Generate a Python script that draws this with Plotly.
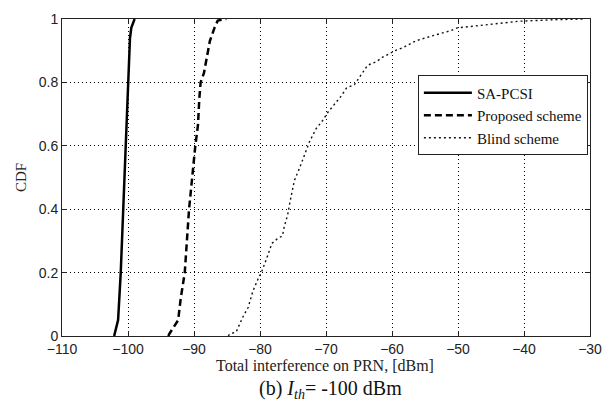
import plotly.graph_objects as go

# ---- data ----
x_sa = [-102.1, -102.0, -101.5, -101.1, -100.8, -100.7, -100.3, -100.2, -99.97, -99.8, -99.7, -99.5, -99.0]
cdf_sa = [0, 0.008, 0.05, 0.2, 0.357, 0.4, 0.6, 0.665, 0.8, 0.88, 0.94, 0.972, 1.0]

x_pr = [-93.9, -93.7, -92.4, -92.0, -91.4, -90.9, -90.75, -89.8, -89.4, -89.2, -89.0, -88.5, -88.0, -87.6, -86.9, -86.4, -85.1]
cdf_pr = [0, 0.008, 0.05, 0.12, 0.2, 0.357, 0.4, 0.6, 0.665, 0.747, 0.8, 0.829, 0.88, 0.93, 0.972, 0.995, 1.0]

x_bl = [-84.8, -84.6, -83.6, -82.6, -81.8, -81.1, -80.3, -79.8, -79.0, -78.5, -78.2, -77.3, -76.6,
        -76.3, -75.8, -75.5, -75.0, -74.8, -74.0, -73.3, -72.5, -71.5, -70.5, -69.7, -68.7, -67.7,
        -66.9, -65.7, -65.2, -64.4, -63.7, -62.4, -61.4, -60.4, -59.6, -58.4, -56.4, -53.9, -51.3,
        -50.1, -47.8, -45.3, -42.7, -40.7, -35.0, -31.0]
cdf_bl = [0, 0.006, 0.013, 0.06, 0.09, 0.14, 0.18, 0.20, 0.244, 0.275, 0.292, 0.308, 0.316,
          0.347, 0.383, 0.418, 0.47, 0.49, 0.53, 0.572, 0.613, 0.654, 0.68, 0.706, 0.731, 0.757,
          0.782, 0.793, 0.808, 0.834, 0.854, 0.865, 0.88, 0.89, 0.90, 0.909, 0.931, 0.947, 0.962,
          0.972, 0.977, 0.982, 0.988, 0.993, 0.998, 1.0]

names = ["SA-PCSI", "Proposed scheme", "Blind scheme"]
x_ticks = [-110, -100, -90, -80, -70, -60, -50, -40, -30]
y_ticks = [0, 0.2, 0.4, 0.6, 0.8, 1]
y_tick_text = ["0", "0.2", "0.4", "0.6", "0.8", "1"]
x_title = "Total interference on PRN, [dBm]"
y_title = "CDF"
caption = "(b) <i>I<sub>th</sub></i>= -100 dBm"

SERIF = "Liberation Serif, Times New Roman, serif"
SANS = "Liberation Sans, Arial, sans-serif"

fig = go.Figure()
fig.add_trace(go.Scatter(x=x_sa, y=cdf_sa, mode="lines", name=names[0],
                         line=dict(color="black", width=2.5)))
fig.add_trace(go.Scatter(x=x_pr, y=cdf_pr, mode="lines", name=names[1],
                         line=dict(color="black", width=2.5, dash="7px,4px")))
fig.add_trace(go.Scatter(x=x_bl, y=cdf_bl, mode="lines", name=names[2],
                         line=dict(color="#111", width=1.4, dash="2px,3px")))

axis_common = dict(
    showline=True, linecolor="#222", linewidth=1, mirror="ticks",
    ticks="inside", ticklen=5, tickcolor="#222",
    showgrid=True, gridcolor="#000", gridwidth=1, griddash="1px,3px",
    zeroline=False,
    tickfont=dict(family=SANS, size=14, color="#222"),
)

fig.update_layout(
    width=613, height=408,
    margin=dict(l=62, r=23, t=11, b=72),
    paper_bgcolor="white", plot_bgcolor="white",
    showlegend=True,
    legend=dict(
        x=0.996, y=0.822, xanchor="right", yanchor="top",
        bgcolor="white", bordercolor="#222", borderwidth=1,
        font=dict(family=SERIF, size=15, color="#111"),
        itemwidth=48, tracegroupgap=0,
    ),
    xaxis=dict(axis_common, range=[-110, -30], tickvals=x_ticks),
    yaxis=dict(axis_common, range=[0, 1], tickvals=y_ticks, ticktext=y_tick_text,
               title=dict(text=y_title, font=dict(family=SERIF, size=15, color="#222"), standoff=8)),
    annotations=[
        dict(text=x_title, xref="paper", yref="paper", x=0.498, y=-0.092,
             xanchor="center", yanchor="middle", showarrow=False,
             font=dict(family=SERIF, size=16, color="#222")),
        dict(text=caption, xref="paper", yref="paper", x=0.508, y=-0.168,
             xanchor="center", yanchor="middle", showarrow=False,
             font=dict(family=SERIF, size=20, color="#111")),
    ],
)

fig.write_html("out.html")
